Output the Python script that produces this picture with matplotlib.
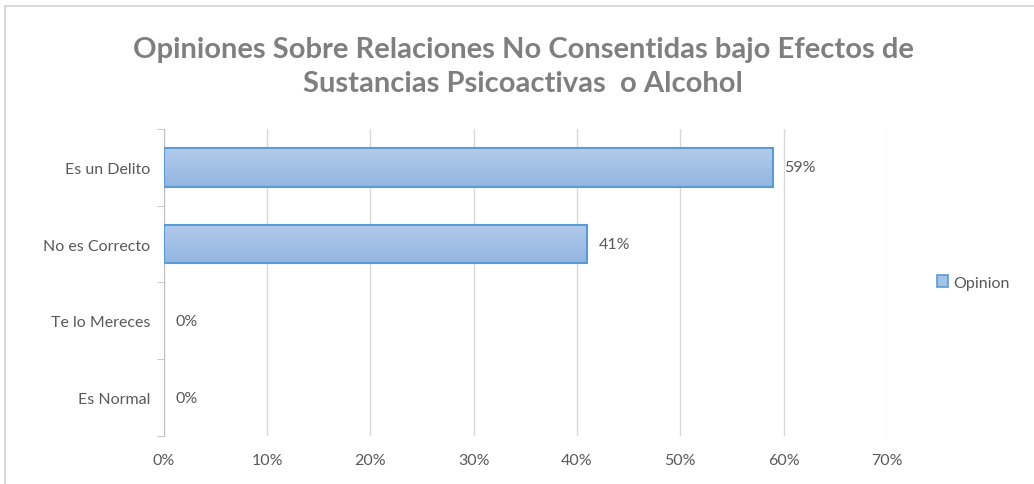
import matplotlib.pyplot as plt
from matplotlib.patches import Rectangle, Patch
from matplotlib.colors import LinearSegmentedColormap
import numpy as np

# datos
categorias = ['Es un Delito', 'No es Correcto', 'Te lo Mereces', 'Es Normal']
valores = [0.59, 0.41, 0.0, 0.0]
etiquetas = ['59%', '41%', '0%', '0%']
ticks_x = [0, 0.1, 0.2, 0.3, 0.4, 0.5, 0.6, 0.7]
titulo = 'Opiniones Sobre Relaciones No Consentidas bajo Efectos de\nSustancias Psicoactivas  o Alcohol'

plt.rcParams['font.family'] = ['Lato', 'DejaVu Sans']
gris = '#595959'

fig = plt.figure(figsize=(10.34, 4.85), dpi=100)
# marco del grafico
fig.patches.append(Rectangle((0.005, -0.1), 1.1, 1.085, transform=fig.transFigure,
                             fill=False, edgecolor='#d9d9d9', linewidth=1.5))

ax = fig.add_axes([0.1586, 0.099, 0.699, 0.633])
y = np.arange(len(categorias))
bars = ax.barh(y, valores, height=0.5, color='#a4c2e8', linewidth=0, zorder=3)

# degradado dentro de cada barra
grad = np.linspace(0, 1, 64).reshape(-1, 1)
cmap = LinearSegmentedColormap.from_list('azul', ['#b2cbea', '#93b6e2'])
for b, v in zip(bars, valores):
    if v <= 0:
        continue
    x0, y0 = b.get_x(), b.get_y()
    im = ax.imshow(grad, extent=(x0, x0 + b.get_width(), y0 + b.get_height(), y0),
                   cmap=cmap, aspect='auto', zorder=3.5, origin='upper')
    im.set_clip_path(b)
    ax.add_patch(Rectangle((x0, y0), b.get_width(), b.get_height(), fill=False,
                           edgecolor='#5b9bd5', linewidth=1.5, zorder=4))

for i, (v, t) in enumerate(zip(valores, etiquetas)):
    ax.text(v + 0.011, i, t, va='center', ha='left', color=gris, fontsize=11.5)

ax.set_ylim(len(categorias) - 0.5, -0.5)
ax.set_xlim(0, 0.7)
ax.set_xticks(ticks_x)
ax.set_xticklabels(['%d%%' % round(t * 100) for t in ticks_x], color=gris, fontsize=11.5)
ax.set_yticks(y)
ax.set_yticklabels(categorias, color=gris, fontsize=11.5)
ax.tick_params(axis='both', length=0, pad=10)
ax.tick_params(axis='x', pad=12)
# marcas menores entre categorias
ax.set_yticks(np.arange(-0.5, len(categorias), 1), minor=True)
ax.tick_params(axis='y', which='minor', length=5, color='#bfbfbf')
ax.grid(axis='x', color='#d9d9d9', linewidth=1, zorder=0)
for s in ['top', 'right', 'bottom']:
    ax.spines[s].set_visible(False)
ax.spines['left'].set_color('#bfbfbf')

fig.text(0.506, 0.862, titulo, ha='center', va='center', fontsize=21, fontweight='bold',
         color='#7f7f7f', linespacing=1.35)

mano = Patch(facecolor='#a4c2e8', edgecolor='#5b9bd5', linewidth=1.2)
ax.legend([mano], ['Opinion'], loc='center left', bbox_to_anchor=(1.05, 0.5), frameon=False,
          handlelength=0.7, handleheight=0.7, handletextpad=0.3, fontsize=11.5, labelcolor=gris)

fig.savefig('out.png', dpi=100)
